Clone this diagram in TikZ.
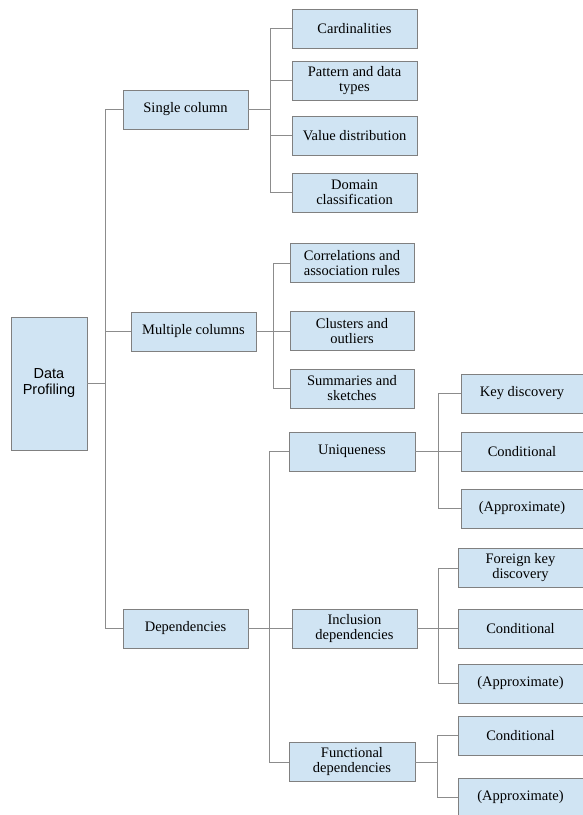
\documentclass[tikz,border=0pt]{standalone}
\usepackage{fontspec}
\setmainfont{Liberation Serif}
\newfontfamily\arialish{Liberation Sans}
\definecolor{boxfill}{RGB}{208,228,243}
\definecolor{boxline}{RGB}{128,128,128}
\definecolor{connline}{RGB}{140,140,140}
\begin{document}
\begin{tikzpicture}[x=1pt,y=-1pt,
  box/.style={draw=boxline,fill=boxfill,line width=0.9pt,inner sep=0pt,align=center,
    font=\fontsize{14.5}{15}\selectfont,minimum height=39pt},
  wA/.style={minimum width=125pt},
  wB/.style={minimum width=124pt},
  wC/.style={minimum width=122pt},
  conn/.style={draw=connline,line width=0.9pt}]
\useasboundingbox (0,0) rectangle (583,815);
% root
\node[box,minimum width=76pt,minimum height=133pt,font=\arialish\fontsize{14.5}{16}\selectfont] (dp) at (49,383.5) {Data\\Profiling};
% level 1
\node[box,wA] (sc) at (185.5,109.5) {Single column};
\node[box,wA] (mc) at (193.5,331.5) {Multiple columns};
\node[box,wA] (dep) at (185.5,628.5) {Dependencies};
% single column children
\node[box,wA] (card) at (354.5,28.5) {Cardinalities};
\node[box,wA] (pat) at (354.5,80.5) {Pattern and data\\types};
\node[box,wA] (val) at (354.5,135.5) {Value distribution};
\node[box,wA] (dom) at (354.5,192.5) {Domain\\classification};
% multiple columns children
\node[box,wB] (corr) at (352,263) {Correlations and\\association rules};
\node[box,wB] (clu) at (352,331) {Clusters and\\outliers};
\node[box,wB] (sum) at (352,388.5) {Summaries and\\sketches};
% dependencies children
\node[box,wB,minimum width=126pt] (uni) at (352,451.5) {Uniqueness};
\node[box,wA] (inc) at (354.5,628.5) {Inclusion\\dependencies};
\node[box,wB,minimum width=126pt] (fd) at (352,762) {Functional\\dependencies};
% uniqueness children
\node[box,wC] (key) at (522,393.5) {Key discovery};
\node[box,wC] (ucond) at (522,451.5) {Conditional};
\node[box,wC] (uapp) at (522,508.5) {(Approximate)};
% inclusion children
\node[box,wA] (fk) at (520.5,568) {Foreign key\\discovery};
\node[box,wA] (icond) at (520.5,628.5) {Conditional};
\node[box,wA] (iapp) at (520.5,683.5) {(Approximate)};
% functional children
\node[box,wA] (fcond) at (520.5,735.5) {Conditional};
\node[box,wA] (fapp) at (520.5,797.5) {(Approximate)};
% connectors
\foreach \c in {sc,mc,dep} \draw[conn] (dp.east) -- ++(18,0) |- (\c.west);
\foreach \c in {card,pat,val,dom} \draw[conn] (sc.east) -- ++(22,0) |- (\c.west);
\foreach \c in {corr,clu,sum} \draw[conn] (mc.east) -- ++(17,0) |- (\c.west);
\foreach \c in {uni,inc,fd} \draw[conn] (dep.east) -- ++(21,0) |- (\c.west);
\foreach \c in {key,ucond,uapp} \draw[conn] (uni.east) -- ++(23,0) |- (\c.west);
\foreach \c in {fk,icond,iapp} \draw[conn] (inc.east) -- ++(21,0) |- (\c.west);
\foreach \c in {fcond,fapp} \draw[conn] (fd.east) -- ++(22,0) |- (\c.west);
\end{tikzpicture}
\end{document}
